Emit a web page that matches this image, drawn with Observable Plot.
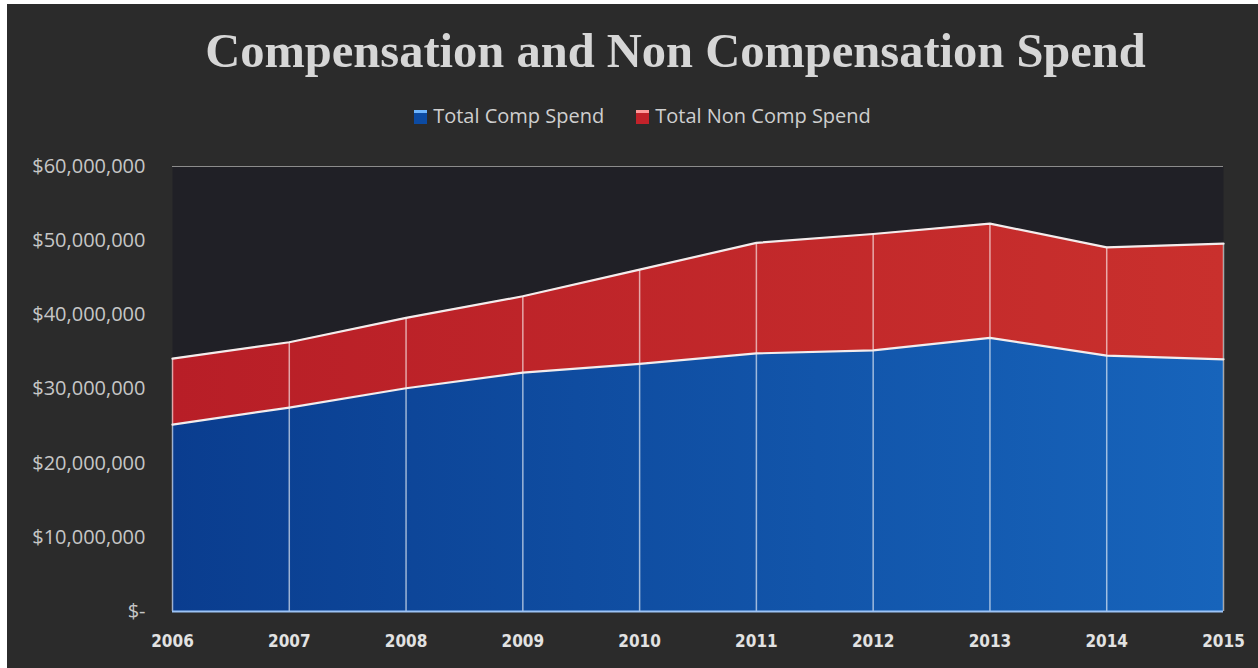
<!DOCTYPE html>
<html>
<head>
<meta charset="utf-8">
<script src="https://cdn.jsdelivr.net/npm/d3@7"></script>
<script src="https://cdn.jsdelivr.net/npm/@observablehq/plot@0.6"></script>
<style>
  html, body { margin: 0; padding: 0; background: #ffffff; }
  #wrap {
    position: absolute; left: 7px; top: 4px; width: 1251px; height: 664px;
    background: #2b2b2b; overflow: hidden;
  }
  #title {
    position: absolute; left: 43px; width: 1251px; top: 23px; text-align: center;
    font-family: "Liberation Serif", "DejaVu Serif", serif; font-weight: bold;
    font-size: 48.5px; line-height: 48px; color: #d6d6d6; white-space: nowrap;
  }
  #legend {
    position: absolute; left: 10px; width: 1251px; top: 102px; text-align: center;
    font-family: "Open Sans", sans-serif; font-size: 20px; line-height: 20px; color: #cfcfcf;
    white-space: nowrap;
  }
  #legend .item { display: inline-block; margin: 0 16px; }
  #legend .sw { display: inline-block; width: 13px; height: 14px; margin-right: 6px; vertical-align: -1px; }
  #chart { position: absolute; left: 0; top: 146px; }
</style>
</head>
<body>
<div id="wrap">
  <div id="title">Compensation and Non Compensation Spend</div>
  <div id="legend"></div>
  <div id="chart"></div>
</div>
<script>
const years = [2006, 2007, 2008, 2009, 2010, 2011, 2012, 2013, 2014, 2015];
const compSpend = [25200000, 27500000, 30100000, 32200000, 33400000, 34800000, 35200000, 36900000, 34500000, 34000000];
const nonCompSpend = [8900000, 8800000, 9500000, 10300000, 12700000, 14900000, 15700000, 15400000, 14600000, 15600000];
const seriesNames = ["Total Comp Spend", "Total Non Comp Spend"];
const seriesColors = ["#0c4ba3", "#c2222a"];
const yTicks = [0, 10000000, 20000000, 30000000, 40000000, 50000000, 60000000];

const long = years.flatMap((year, i) => [
  {year, series: seriesNames[0], value: compSpend[i]},
  {year, series: seriesNames[1], value: nonCompSpend[i]}
]);
const totals = years.map((year, i) => ({year, total: compSpend[i] + nonCompSpend[i]}));

// legend
const legend = document.getElementById("legend");
seriesNames.forEach((name, i) => {
  const item = document.createElement("span");
  item.className = "item";
  item.innerHTML = `<span class="sw" style="background:linear-gradient(${i === 0 ? "#6fb6ff" : "#ff9a9a"} 0 20%, ${seriesColors[i]} 20%)"></span>${name}`;
  legend.appendChild(item);
});

const fmt = d3.format(",");
const chart = Plot.plot({
  width: 1251,
  height: 518,
  marginLeft: 165,
  marginRight: 35,
  marginTop: 16,
  marginBottom: 57,
  style: {background: "transparent", color: "#c6c6c6"},
  x: {type: "linear", domain: [2006, 2015]},
  y: {domain: [0, 60000000]},
  color: {domain: seriesNames, range: ["url(#gradBlue)", "url(#gradRed)"]},
  marks: [
    Plot.frame({fill: "#202026", stroke: null}),
    Plot.ruleY(yTicks.slice(-1), {stroke: "#8c8c8c", strokeWidth: 1.2}),
    Plot.areaY(long, {x: "year", y: "value", fill: "series"}),
    Plot.ruleX(totals, {x: "year", y1: 0, y2: "total", stroke: "#ffffff", strokeOpacity: 0.6, strokeWidth: 1.5}),
    Plot.lineY(long, Plot.stackY2({x: "year", y: "value", z: "series", stroke: "#f3ecec", strokeWidth: 2.2})),
    Plot.ruleY([0], {stroke: "#9cc3f5", strokeWidth: 2}),
    Plot.axisY({
      ticks: yTicks, tickSize: 0, tickPadding: 27,
      tickFormat: d => d === 0 ? "$-" : "$" + fmt(d),
      fontSize: 20, fontFamily: "Open Sans, sans-serif", label: null
    }),
    Plot.axisX({
      ticks: years, tickSize: 0, tickPadding: 23, tickFormat: "d",
      fontSize: 17, fontWeight: "bold", fontFamily: "DejaVu Sans Condensed, Liberation Sans, sans-serif",
      fill: "#e2e2e2", label: null
    })
  ]
});
// gradients referenced by the color range
const defs = d3.select(chart).insert("defs", ":first-child");
[["gradBlue", "#0a3d8f", "#1764bb"], ["gradRed", "#b81e27", "#c9302d"]].forEach(([id, c0, c1]) => {
  const g = defs.append("linearGradient").attr("id", id).attr("x1", "0").attr("x2", "1").attr("y1", "0").attr("y2", "0");
  g.append("stop").attr("offset", "0").attr("stop-color", c0);
  g.append("stop").attr("offset", "1").attr("stop-color", c1);
});
document.getElementById("chart").appendChild(chart);
</script>
</body>
</html>
